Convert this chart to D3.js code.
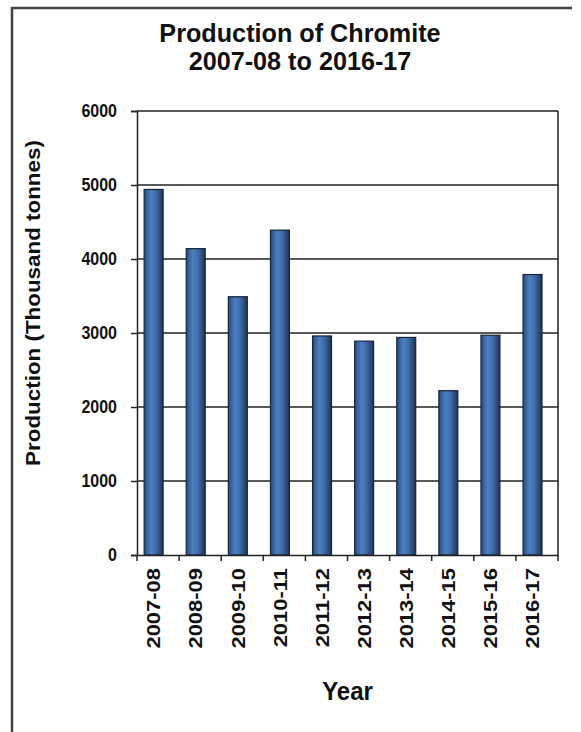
<!DOCTYPE html>
<html lang="en">
<head>
  <meta charset="UTF-8" />
  <title>Production of Chromite</title>
  <script src="https://d3js.org/d3.v7.min.js"></script>
  <style>
    html, body {
      margin: 0;
      padding: 0;
      overflow: hidden;
      background: #fff;
      font-family: Arial, 'Liberation Sans', sans-serif;
    }
    svg { display: block; }
    text { font-weight: bold; fill: #111; }
  </style>
</head>
<body>
  <div id="chart"></div>
  <script>
    // data (thousand tonnes)
    const years = ["2007-08", "2008-09", "2009-10", "2010-11", "2011-12",
                   "2012-13", "2013-14", "2014-15", "2015-16", "2016-17"];
    const production = [4940, 4140, 3490, 4390, 2960, 2890, 2940, 2220, 2970, 3790];
    const yTicks = [0, 1000, 2000, 3000, 4000, 5000, 6000];
    const titleLines = ["Production of Chromite", "2007-08 to 2016-17"];

    const width = 581, height = 732;
    const margin = { top: 111, right: 23, bottom: 177, left: 137 };
    const innerWidth = width - margin.left - margin.right;
    const innerHeight = height - margin.top - margin.bottom;

    const svg = d3.select("#chart").append("svg")
      .attr("width", width)
      .attr("height", height);

    // gradient for the bars
    const grad = svg.append("defs").append("linearGradient")
      .attr("id", "barGrad")
      .attr("x1", "0%").attr("x2", "100%").attr("y1", "0%").attr("y2", "0%");
    grad.append("stop").attr("offset", "0%").attr("stop-color", "#2a4d7c");
    grad.append("stop").attr("offset", "35%").attr("stop-color", "#4d7fc0");
    grad.append("stop").attr("offset", "60%").attr("stop-color", "#406eab");
    grad.append("stop").attr("offset", "100%").attr("stop-color", "#1d3558");

    // outer frame (top and left only are visible)
    svg.append("path")
      .attr("d", `M12,${height} L12,8 L572,8`)
      .attr("fill", "none")
      .attr("stroke", "#444")
      .attr("stroke-width", 2.5);

    // title
    svg.append("g").selectAll("text")
      .data(titleLines)
      .join("text")
      .attr("text-anchor", "middle")
      .attr("transform", (d, i) => `translate(300, ${42 + i * 28}) scale(1.05, 1.1)`)
      .style("font-size", "24px")
      .text(d => d);

    const g = svg.append("g")
      .attr("transform", `translate(${margin.left},${margin.top})`);

    const x = d3.scaleBand()
      .domain(years)
      .range([0, innerWidth]);

    const y = d3.scaleLinear()
      .domain([0, 6000])
      .range([innerHeight, 0]);

    // gridlines
    g.append("g").selectAll("line")
      .data(yTicks.filter(d => d > 0))
      .join("line")
      .attr("x1", 0).attr("x2", innerWidth)
      .attr("y1", d => y(d)).attr("y2", d => y(d))
      .attr("stroke", "#222")
      .attr("stroke-width", 1.5);

    // right edge of plot area
    g.append("line")
      .attr("x1", innerWidth).attr("x2", innerWidth)
      .attr("y1", 0).attr("y2", innerHeight)
      .attr("stroke", "#222")
      .attr("stroke-width", 1.5);

    // bars (drawn a little left of band centre, like the 3D excel look)
    g.selectAll(".bar")
      .data(years)
      .join("rect")
      .attr("class", "bar")
      .attr("x", (d, i) => x(d) + x.bandwidth() * 0.17)
      .attr("y", (d, i) => y(production[i]))
      .attr("width", x.bandwidth() * 0.45)
      .attr("height", (d, i) => innerHeight - y(production[i]))
      .attr("fill", "url(#barGrad)")
      .attr("stroke", "#16243a")
      .attr("stroke-width", 1.2);

    // y axis
    const yAxis = g.append("g")
      .call(d3.axisLeft(y).tickValues(yTicks).tickFormat(d3.format("d"))
        .tickSize(6).tickPadding(14));
    yAxis.select(".domain").attr("stroke", "#222").attr("stroke-width", 1.5);
    yAxis.selectAll(".tick line").attr("stroke", "#222").attr("stroke-width", 1.5);
    yAxis.selectAll(".tick text")
      .style("font-size", "16px")
      .attr("fill", "#111")
      .attr("dy", "0.3em")
      .attr("transform", "translate(-20, 0) scale(1, 1.2) translate(20, 0)");

    // x axis
    const xAxis = g.append("g")
      .attr("transform", `translate(0,${innerHeight})`)
      .call(d3.axisBottom(x).tickSize(6).tickSizeOuter(0));
    xAxis.select(".domain").attr("stroke", "#222").attr("stroke-width", 1.5);
    // ticks sit on band edges, not centres
    xAxis.selectAll(".tick line")
      .attr("x1", -x.bandwidth() / 2).attr("x2", -x.bandwidth() / 2)
      .attr("stroke", "#222").attr("stroke-width", 1.5);
    xAxis.append("line")
      .attr("x1", innerWidth).attr("x2", innerWidth)
      .attr("y1", 0).attr("y2", 6)
      .attr("stroke", "#222").attr("stroke-width", 1.5);
    xAxis.selectAll(".tick text")
      .style("font-size", "18px")
      .attr("fill", "#111")
      .attr("text-anchor", "end")
      .attr("dy", "0.35em")
      .attr("transform", "translate(-4, 13) rotate(-90) scale(1.22, 1)")
      .attr("x", 0)
      .attr("y", 0);

    // axis titles
    svg.append("text")
      .attr("text-anchor", "middle")
      .attr("transform", "translate(40, 303) rotate(-90) scale(1.12, 1)")
      .style("font-size", "20px")
      .text("Production (Thousand tonnes)");

    svg.append("text")
      .attr("text-anchor", "middle")
      .attr("transform", `translate(${margin.left + innerWidth / 2}, 700) scale(1, 1.1)`)
      .style("font-size", "24px")
      .text("Year");
  </script>
</body>
</html>
